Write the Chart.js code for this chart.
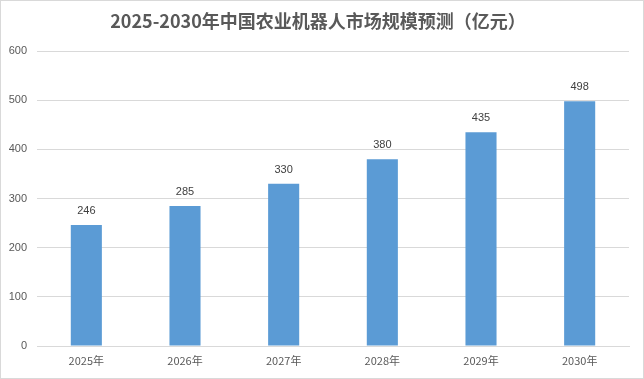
<!DOCTYPE html>
<html><head><meta charset="utf-8">
<script src="https://cdn.jsdelivr.net/npm/chart.js@4/dist/chart.umd.min.js"></script>
<style>
html,body{margin:0;padding:0;background:#fff;}
#wrap{width:642px;height:377px;border:1px solid #d9d9d9;position:relative;}
</style></head><body>
<div id="wrap"><canvas id="c" width="642" height="377"></canvas></div>
<script>
const categories = ['2025年','2026年','2027年','2028年','2029年','2030年'];
const values = [246, 285, 330, 380, 435, 498];
const titleText = '2025-2030年中国农业机器人市场规模预测（亿元）';

const overlay = {
  id: 'overlay',
  afterDraw(chart) {
    const ctx = chart.ctx;
    ctx.save();
    ctx.fillStyle = '#595959';
    ctx.font = 'bold 18px "Noto Sans CJK SC", sans-serif';
    ctx.textAlign = 'center';
    ctx.textBaseline = 'middle';
    ctx.fillText(titleText, 317, 20);
    const meta = chart.getDatasetMeta(0);
    ctx.fillStyle = '#404040';
    ctx.font = '11px "Liberation Sans", sans-serif';
    ctx.textBaseline = 'alphabetic';
    meta.data.forEach((bar, i) => {
      ctx.fillText(String(values[i]), bar.x, bar.y - 11);
    });
    ctx.restore();
  }
};

new Chart(document.getElementById('c'), {
  type: 'bar',
  data: {
    labels: categories,
    datasets: [{
      data: values,
      backgroundColor: '#5b9bd5',
      categoryPercentage: 1,
      barPercentage: 0.315
    }]
  },
  options: {
    responsive: false,
    animation: false,
    devicePixelRatio: 1,
    layout: { padding: { top: 50, right: 14, left: 0, bottom: 0 } },
    plugins: { legend: { display: false }, title: { display: false }, tooltip: { enabled: false } },
    scales: {
      x: {
        grid: { display: false, drawTicks: false },
        border: { display: true, color: '#d9d9d9', width: 1 },
        ticks: { color: '#595959', font: { size: 11, family: '"Noto Sans CJK SC", sans-serif' }, padding: 8 },
        afterFit(s) { s.height = 32; }
      },
      y: {
        min: 0, max: 600,
        grid: { color: '#d9d9d9', drawTicks: false },
        border: { display: false },
        ticks: { stepSize: 100, color: '#595959', font: { size: 11, family: '"Liberation Sans", sans-serif' }, padding: 10 },
        afterFit(s) { s.width = 36; }
      }
    }
  },
  plugins: [overlay]
});
</script>
</body></html>
